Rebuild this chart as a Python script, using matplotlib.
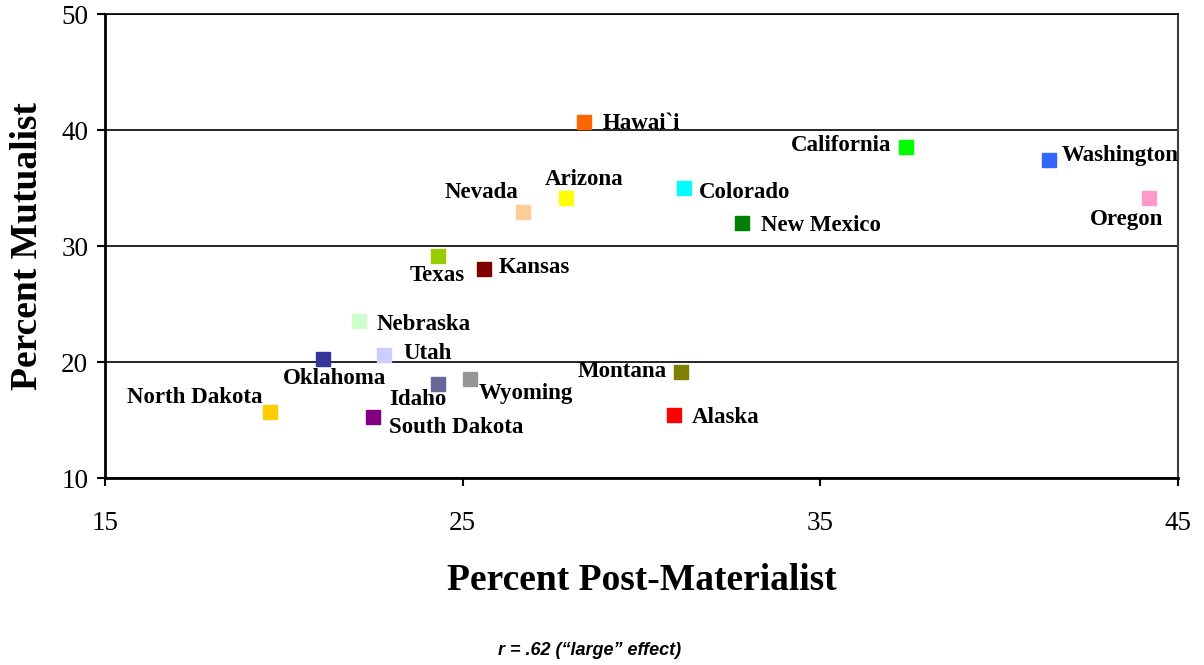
import matplotlib.pyplot as plt

# data
states = ['Hawai`i', 'California', 'Washington', 'Oregon', 'Colorado', 'New Mexico',
          'Arizona', 'Nevada', 'Texas', 'Kansas', 'Nebraska', 'Utah', 'Oklahoma',
          'North Dakota', 'Idaho', 'Wyoming', 'South Dakota', 'Montana', 'Alaska']
post_mat = [28.4, 37.4, 41.4, 44.2, 31.2, 32.8, 27.9, 26.7, 24.3, 25.6, 22.1, 22.8,
            21.1, 19.6, 24.3, 25.2, 22.5, 31.1, 30.9]
mutual = [40.7, 38.5, 37.4, 34.1, 35.0, 32.0, 34.1, 32.9, 29.1, 28.0, 23.5, 20.6,
          20.3, 15.7, 18.1, 18.5, 15.3, 19.1, 15.4]
colors = ['#FF6600', '#00FF00', '#3366FF', '#FF99CC', '#00FFFF', '#008000',
          '#FFFF00', '#FFCC99', '#99CC00', '#800000', '#CCFFCC', '#CCCCFF', '#333399',
          '#FFCC00', '#666699', '#969696', '#800080', '#808000', '#FF0000']

# label placement (pixel offsets from marker, alignment)
offsets = [(18, -2, 'left'), (-15, 2, 'right'), (12, 5, 'left'), (14, -21, 'right'),
           (14, -4, 'left'), (19, -3, 'left'), (18, 19, 'center'), (-5, 20, 'right'),
           (0, -19, 'center'), (15, 2, 'left'), (18, -3, 'left'), (19, 2, 'left'),
           (11, -20, 'center'), (-7, 14, 'right'), (-20, -15, 'center'), (9, -14, 'left'),
           (16, -11, 'left'), (-14, 1, 'right'), (18, -2, 'left')]

serif = 'Liberation Serif'

fig = plt.figure(figsize=(12.04, 6.65), dpi=100, facecolor='w')
ax = fig.add_axes([0.0872, 0.2812, 0.8912, 0.6977])

for x, y, c in zip(post_mat, mutual, colors):
    ax.plot(x, y, 's', color=c, markersize=10.5, markeredgecolor=c, zorder=3)

for name, x, y, (dx, dy, ha) in zip(states, post_mat, mutual, offsets):
    ax.annotate(name, (x, y), xytext=(dx, dy), textcoords='offset pixels',
                ha=ha, va='center', fontsize=16.5, fontweight='bold', family=serif)

ax.set_xlim(15, 45)
ax.set_ylim(10, 50)
ax.set_xticks([15, 25, 35, 45])
ax.set_yticks([10, 20, 30, 40, 50])
ax.yaxis.grid(True, color='black', linewidth=1.2)
ax.set_axisbelow(True)
for lab in ax.get_xticklabels() + ax.get_yticklabels():
    lab.set_family(serif)
    lab.set_fontsize(19.5)
ax.tick_params(direction='out', length=6, width=1.5, color='black', pad=6)
ax.tick_params(axis='x', pad=18)
ax.spines['left'].set_linewidth(2)
ax.spines['bottom'].set_linewidth(2)
ax.spines['top'].set_linewidth(1.2)
ax.spines['right'].set_linewidth(1.5)
ax.spines['right'].set_color('#404040')

ax.set_xlabel('Percent Post-Materialist', fontsize=27, fontweight='bold', family=serif,
              labelpad=19)
ax.set_ylabel('Percent Mutualist', fontsize=27, fontweight='bold', family=serif,
              labelpad=12)

fig.text(0.49, 0.022, 'r = .62 (\u201clarge\u201d effect)', ha='center', va='center',
         fontsize=13, fontweight='bold', style='italic', family='Liberation Sans')

plt.savefig('out.png', dpi=100, facecolor='w')
